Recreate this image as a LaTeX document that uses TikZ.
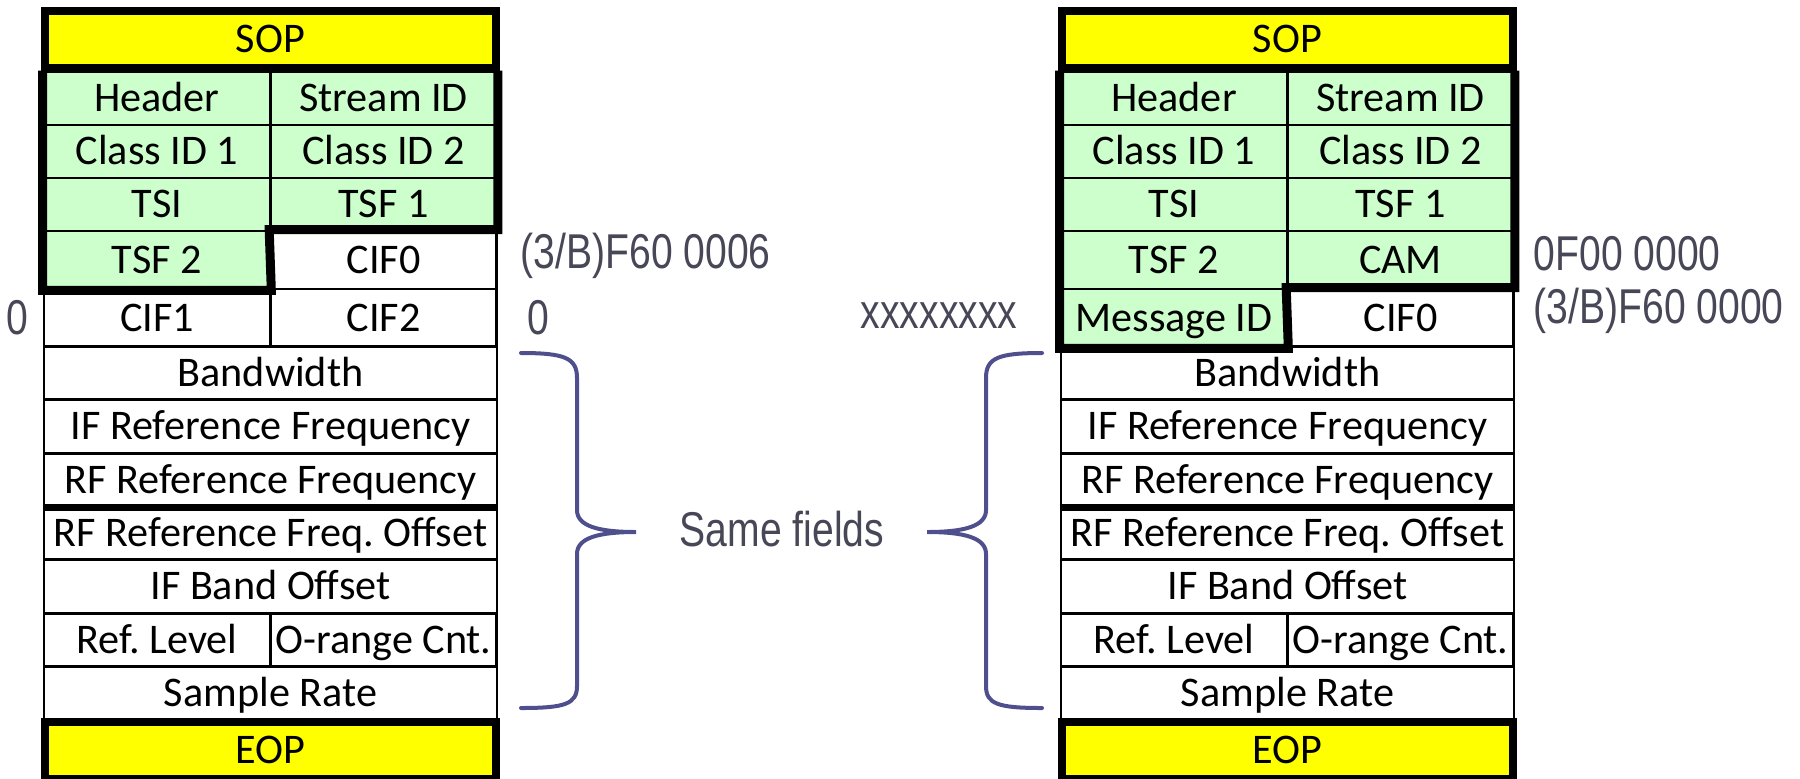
\documentclass[tikz,border=0pt]{standalone}
\usepackage{fontspec}
\setmainfont{Carlito}
\newfontfamily\notefont[FakeStretch=0.8]{Liberation Sans}
\definecolor{markyellow}{HTML}{FFFF00}
\definecolor{hdrgreen}{HTML}{CCFFCC}
\definecolor{notegray}{HTML}{474757}
\definecolor{bracecol}{HTML}{4F4F8E}
\usetikzlibrary{positioning}
\frenchspacing

\begin{document}
\begin{tikzpicture}[
    x=0.01cm, y=-0.01cm,
    cell/.style={draw, fill=white, line width=0.025cm, minimum height=0.53cm, inner sep=0pt,
      text height=0.265cm, text depth=0pt, font=\fontsize{12}{13}\selectfont},
    half/.style={cell, minimum width=2.26cm},
    full/.style={cell, minimum width=4.53cm},
    tall/.style={minimum height=0.58cm},
    hdr/.style={fill=hdrgreen},
    marker/.style={draw, line width=0.08cm, fill=markyellow, minimum width=4.51cm, minimum height=0.57cm, inner sep=0pt,
      text height=0.265cm, text depth=0pt, font=\fontsize{12}{13}\selectfont},
    outline/.style={line width=0.09cm, line join=miter},
    note/.style={text=notegray, inner sep=0pt, font=\notefont\fontsize{13.9}{15}\selectfont},
    brace/.style={draw=bracecol, line width=0.04cm, line cap=round}
  ]
  \useasboundingbox (0,0) rectangle (1800,778);
  \clip (0,0) rectangle (1800,778);

  % context packet, first word of the header block
  \node[marker] (lsop) at (270.5,39.5) {SOP};
  \node[half, hdr] (lhdr) at (157,98.5) {Header};
  \node[half, hdr] (lsid) at (383.5,98.5) {Stream ID};
  \node[half, hdr] (lcid1) at (157,151.5) {Class ID 1};
  \node[half, hdr] (lcid2) at (383.5,151.5) {Class ID 2};
  \node[half, hdr] (ltsi) at (157,204.5) {TSI};
  \node[half, hdr] (ltsf1) at (383.5,204.5) {TSF 1};
  \node[half, hdr, tall] (ltsf2) at (157,260) {TSF 2};
  \node[half, tall] (lcif0) at (383.5,260) {CIF0};
  \node[half, tall] (lcif1) at (157,318) {CIF1};
  \node[half, tall] (lcif2) at (383.5,318) {CIF2};
  \node[full] (lbw) at (270.5,373) {Bandwidth};
  \node[full] (lifref) at (270.5,426.4) {IF Reference Frequency};
  \node[full] (lrfref) at (270.5,479.8) {RF Reference Frequency};
  \node[full] (lrfoff) at (270.5,533.2) {RF Reference Freq. Offset};
  \node[full] (lifband) at (270.5,586.6) {IF Band Offset};
  \node[half] (lreflvl) at (157,640) {Ref. Level};
  \node[half] (lorange) at (383.5,640) {O-range Cnt.};
  \node[full] (lsrate) at (270.5,693.4) {Sample Rate};
  \node[marker] (leop) at (270.5,750.5) {EOP};

  % thick outline round the header block
  \draw[outline] (lhdr.north west) -- (ltsf2.south west) -- (ltsf2.south east)
    -- (lcif0.north west) -- (lcif0.north east) -- (lsid.north east);
  \draw[line width=0.07cm] (lrfref.south west) -- (lrfref.south east);

  % command packet
  \node[marker] (rsop) at (1287.5,39.5) {SOP};
  \node[half, hdr] (rhdr) at (1174,98.5) {Header};
  \node[half, hdr] (rsid) at (1400.5,98.5) {Stream ID};
  \node[half, hdr] (rcid1) at (1174,151.5) {Class ID 1};
  \node[half, hdr] (rcid2) at (1400.5,151.5) {Class ID 2};
  \node[half, hdr] (rtsi) at (1174,204.5) {TSI};
  \node[half, hdr] (rtsf1) at (1400.5,204.5) {TSF 1};
  \node[half, hdr, tall] (rtsf2) at (1174,260) {TSF 2};
  \node[half, hdr, tall] (rcam) at (1400.5,260) {CAM};
  \node[half, hdr, tall] (rmsg) at (1174,318) {Message ID};
  \node[half, tall] (rcif0) at (1400.5,318) {CIF0};
  \node[full] (rbw) at (1287.5,373) {Bandwidth};
  \node[full] (rifref) at (1287.5,426.4) {IF Reference Frequency};
  \node[full] (rrfref) at (1287.5,479.8) {RF Reference Frequency};
  \node[full] (rrfoff) at (1287.5,533.2) {RF Reference Freq. Offset};
  \node[full] (rifband) at (1287.5,586.6) {IF Band Offset};
  \node[half] (rreflvl) at (1174,640) {Ref. Level};
  \node[half] (rorange) at (1400.5,640) {O-range Cnt.};
  \node[full] (rsrate) at (1287.5,693.4) {Sample Rate};
  \node[marker] (reop) at (1287.5,750.5) {EOP};

  \draw[outline] (rhdr.north west) -- (rmsg.south west) -- (rmsg.south east)
    -- (rcif0.north west) -- (rcif0.north east) -- (rsid.north east);
  \draw[line width=0.07cm] (rrfref.south west) -- (rrfref.south east);

  % indicator words
  \node[note, anchor=base] (lzero1) at (17,334) {0};
  \node[note, anchor=base west] (lcifw) at (520,268) {(3/B)F60 0006};
  \node[note, anchor=base west] (lzero2) at (527,334) {0};
  \node[note, anchor=base east] (rmsgw) at (1018,328) {xxxxxxxx};
  \node[note, anchor=base west] (rcamw) at (1533,270) {0F00 0000};
  \node[note, anchor=base west] (rcifw) at (1533,323) {(3/B)F60 0000};
  \node[note, anchor=base] (same) at (782,546) {Same fields};

  % braces
  \draw[brace] (521,353) .. controls (565,353) and (577,358) .. (577,378) -- (577,510)
    .. controls (577,526) and (598,532) .. (636,532) .. controls (598,532) and (577,538) .. (577,554)
    -- (577,686) .. controls (577,704) and (565,708) .. (521,708);
  \draw[brace] (1042,353) .. controls (998,353) and (986,358) .. (986,378) -- (986,510)
    .. controls (986,526) and (965,532) .. (927,532) .. controls (965,532) and (986,538) .. (986,554)
    -- (986,686) .. controls (986,704) and (998,708) .. (1042,708);
\end{tikzpicture}
\end{document}
